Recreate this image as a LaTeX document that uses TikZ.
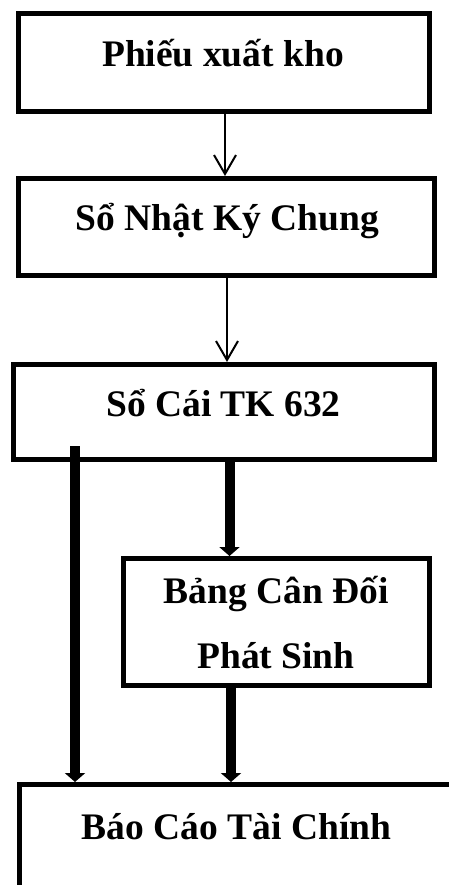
\documentclass[tikz,border=0pt]{standalone}
\usepackage{fontspec}
\setmainfont{Liberation Serif}
\usetikzlibrary{arrows.meta}
\begin{document}
\begin{tikzpicture}[x=1pt,y=-1pt,
  box/.style={draw,line width=5pt,inner sep=0pt,rectangle},
  lbl/.style={inner sep=0pt,anchor=base,font=\bfseries\fontsize{37.5}{45}\selectfont},
  thinarrow/.style={line width=2pt,-{Straight Barb[length=19pt,width=22pt]}},
  thickarrow/.style={line width=10pt,-{Triangle[length=9pt,width=20pt]}}]
  \path[use as bounding box,clip] (0,0) rectangle (449,885);
  \fill[white] (0,0) rectangle (449,885);

  % boxes
  \node[box,minimum width=410.5pt,minimum height=98pt] (b1) at (223.75,62.5) {};
  \node[box,minimum width=416pt,minimum height=97pt] (b2) at (226.5,227) {};
  \node[box,minimum width=421pt,minimum height=95pt] (b3) at (224,412) {};
  \node[box,minimum width=306pt,minimum height=127pt] (b4) at (276.5,622) {};
  \node[box,minimum width=460pt,minimum height=150pt] (b5) at (249.5,859.5) {};

  % labels
  \node[lbl] (t1) at (223,67) {Phiếu xuất kho};
  \node[lbl] (t2) at (227.5,231) {Sổ Nhật Ký Chung};
  \node[lbl] (t3) at (223.5,416) {Sổ Cái TK 632};
  \node[lbl] (t4a) at (276,603) {Bảng Cân Đối};
  \node[lbl] (t4b) at (276,668) {Phát Sinh};
  \node[lbl] (t5) at (236.5,839) {Báo Cáo Tài Chính};

  % connectors
  \draw[thinarrow] (225,0 |- b1.south) -- (225,0 |- b2.north);
  \draw[thinarrow] (227,0 |- b2.south) -- (227,0 |- b3.north);
  \coordinate (a0) at (75,446);
  \draw[thickarrow] (a0) -- (a0 |- b5.north);
  \draw[thickarrow] (229.5,0 |- b3.south) -- (229.5,0 |- b4.north);
  \draw[thickarrow] (231,0 |- b4.south) -- (231,0 |- b5.north);
\end{tikzpicture}
\end{document}
